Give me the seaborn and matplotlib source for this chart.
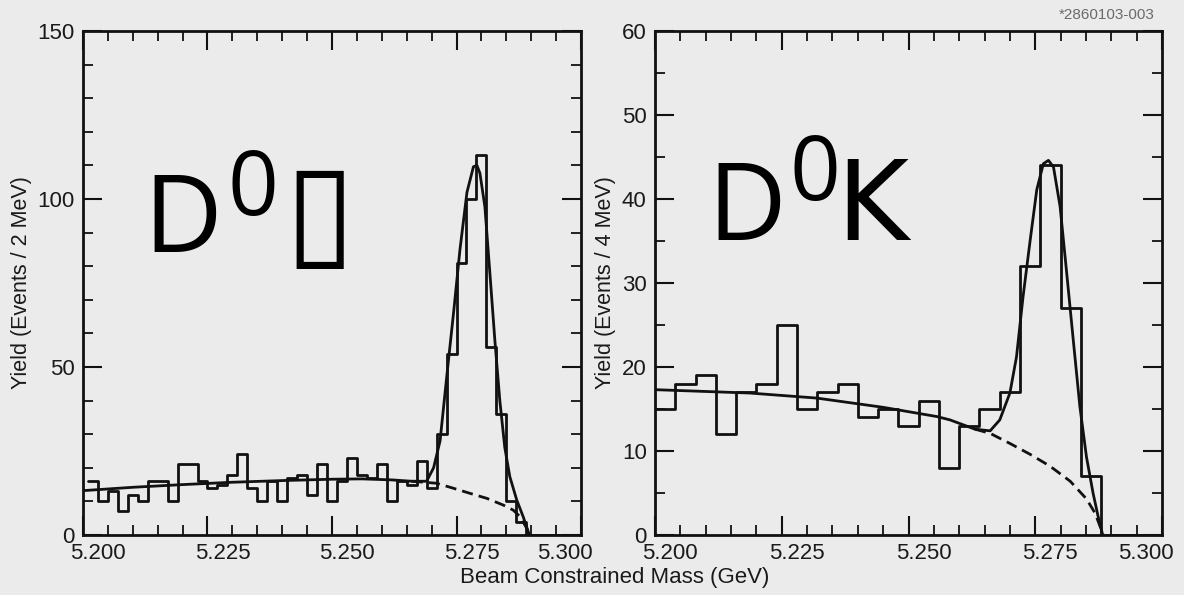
import numpy as np
import pandas as pd
import matplotlib
matplotlib.use("Agg")
import matplotlib.pyplot as plt
import seaborn as sns
from matplotlib.ticker import MultipleLocator
from matplotlib.transforms import ScaledTranslation

# ---------------- data ----------------
# Left panel: D0 pi, 2 MeV bins
left_first_edge = 5.201
left_bin_width = 0.002
left_counts = [16, 10, 13, 7, 12, 10, 16, 16, 10, 21,
               21, 16, 14, 15, 18, 24, 14, 10, 16, 10,
               17, 18, 12, 21, 10, 16, 23, 18, 17, 21,
               10, 16, 15, 22, 14, 30, 54, 81, 100, 113,
               56, 36, 10, 4, 0, 0, 0, 0, 0]

# Right panel: D0 K, 4 MeV bins
right_first_edge = 5.200
right_bin_width = 0.004
right_counts = [15, 18, 19, 12, 17, 18, 25, 15, 17, 18,
                14, 15, 13, 16, 8, 13, 15, 17, 32, 44,
                27, 7, 0, 0, 0]

# Fit curves (mass GeV, yield)
left_fit_m = [5.200, 5.210, 5.220, 5.230, 5.240, 5.250, 5.256, 5.262, 5.266,
              5.2690, 5.2704, 5.2717, 5.2731, 5.2744, 5.2757, 5.2771, 5.2784,
              5.2791, 5.2797, 5.2807, 5.2817, 5.2827, 5.2837, 5.2847, 5.2857,
              5.2871, 5.2884, 5.2894, 5.2897]
left_fit_y = [13.2, 14.2, 15.0, 15.7, 16.2, 16.6, 16.7, 16.4, 16.0,
              16.0, 20.0, 28.0, 48.0, 66.0, 85.0, 102.0, 109.6,
              110.0, 107.7, 97.7, 78.0, 58.0, 40.0, 26.0, 17.4,
              10.4, 5.4, 1.0, 0.0]
left_bkg_m = [5.266, 5.2710, 5.2744, 5.2777, 5.2811, 5.2844, 5.2864, 5.2878,
              5.2891, 5.2896]
left_bkg_y = [16.0, 15.4, 13.9, 12.4, 10.9, 8.9, 7.4, 5.4, 2.0, 0.0]

right_fit_m = [5.200, 5.2187, 5.2319, 5.2450, 5.2556, 5.2582, 5.2631, 5.2661,
               5.2680, 5.2700, 5.2713, 5.2726, 5.2740, 5.2753, 5.2766, 5.2776,
               5.2786, 5.2799, 5.2812, 5.2825, 5.2838, 5.2851, 5.2864, 5.2874,
               5.2883]
right_fit_y = [17.3, 16.9, 16.3, 15.2, 14.1, 13.7, 12.6, 12.4,
               13.7, 16.9, 21.2, 28.4, 35.1, 41.1, 44.2, 44.6,
               43.8, 39.1, 31.2, 23.2, 15.3, 9.3, 5.0, 2.2,
               0.0]
right_bkg_m = [5.2631, 5.2661, 5.2700, 5.2740, 5.2779, 5.2819, 5.2851, 5.2868,
               5.2878, 5.2884]
right_bkg_y = [12.6, 12.1, 10.9, 9.6, 8.2, 6.4, 4.3, 2.6, 1.0, 0.0]

x_ticks = [5.200, 5.225, 5.250, 5.275, 5.300]
x_tick_labels = ["5.200", "5.225", "5.250", "5.275", "5.300"]
left_y_ticks = [0, 50, 100, 150]
right_y_ticks = [0, 10, 20, 30, 40, 50, 60]

x_label = "Beam Constrained Mass (GeV)"
left_ylabel = "Yield (Events / 2 MeV)"
right_ylabel = "Yield (Events / 4 MeV)"
stamp = "*2860103-003"

# ---------------- style ----------------
BG = "#ebebeb"
INK = "#111111"
sns.set_theme(style="ticks")
plt.rcParams["font.family"] = ["Liberation Sans", "DejaVu Sans"]
plt.rcParams["figure.facecolor"] = BG
plt.rcParams["axes.facecolor"] = BG

fig = plt.figure(figsize=(11.84, 5.95), dpi=100)
fig.patch.set_facecolor(BG)

W, H = 1184.0, 595.0
ax_l = fig.add_axes([83 / W, 1 - 535 / H, (581 - 83) / W, (535 - 31) / H])
ax_r = fig.add_axes([655 / W, 1 - 535 / H, (1162 - 655) / W, (535 - 31) / H])


def draw_panel(ax, first_edge, width, counts, fit_m, fit_y, bkg_m, bkg_y,
               y_ticks, yminor, ylabel):
    n = len(counts)
    edges = [float(v) for v in first_edge + width * np.arange(n + 1)]
    centers = [0.5 * (a + b) for a, b in zip(edges[:-1], edges[1:])]
    df = pd.DataFrame({"mass": centers, "count": counts})
    sns.histplot(data=df, x="mass", weights="count", bins=edges,
                 element="step", fill=False, color=INK, linewidth=2.0, ax=ax)
    sns.lineplot(x=fit_m, y=fit_y, sort=False, estimator=None, color=INK,
                 linewidth=2.0, ax=ax)
    sns.lineplot(x=bkg_m, y=bkg_y, sort=False, estimator=None, color=INK,
                 linewidth=2.0, linestyle=(0, (4, 2.2)), ax=ax)
    ax.set_xlim(x_ticks[0], x_ticks[-1])
    ax.set_ylim(y_ticks[0], y_ticks[-1])
    ax.set_xticks(x_ticks, x_tick_labels)
    ax.xaxis.set_minor_locator(MultipleLocator(0.005))
    ax.set_yticks(y_ticks, [str(v) for v in y_ticks])
    ax.yaxis.set_minor_locator(MultipleLocator(yminor))
    ax.tick_params(which="both", direction="in", top=True, right=True,
                   color=INK, labelcolor="#1a1a1a", labelsize=16)
    ax.tick_params(which="major", length=14, width=1.5, pad=6)
    ax.tick_params(which="minor", length=7, width=1.3)
    for s in ax.spines.values():
        s.set_linewidth(2.0)
        s.set_color(INK)
    ax.set_xlabel("")
    ax.set_ylabel(ylabel, fontsize=15.5, color="#1a1a1a", labelpad=4)
    ax.set_facecolor(BG)


draw_panel(ax_l, left_first_edge, left_bin_width, left_counts,
           left_fit_m, left_fit_y, left_bkg_m, left_bkg_y,
           left_y_ticks, 10, left_ylabel)
draw_panel(ax_r, right_first_edge, right_bin_width, right_counts,
           right_fit_m, right_fit_y, right_bkg_m, right_bkg_y,
           right_y_ticks, 5, right_ylabel)

# shift x tick labels like the original scan: right, except the last one (left)
off_r = ScaledTranslation(15 / 100.0, 0, fig.dpi_scale_trans)
off_l = ScaledTranslation(-16 / 100.0, 0, fig.dpi_scale_trans)
for ax in (ax_l, ax_r):
    labs = ax.get_xticklabels()
    for i, lab in enumerate(labs):
        lab.set_transform(lab.get_transform() + (off_l if i == len(labs) - 1 else off_r))

fig.text(615 / W, 1 - 578 / H, x_label, ha="center", va="center",
         fontsize=16, color="#1a1a1a")
fig.text(1155 / W, 1 - 15 / H, stamp, ha="right", va="center",
         fontsize=11, color="#6a6a6a")

# big overlay labels
big_font = ["Open Sans", "DejaVu Sans"]
fig.text(143 / W, 1 - 252 / H, "D", fontsize=78, family=big_font,
         color="black", ha="left", va="baseline")
fig.text(228 / W, 1 - 215 / H, "0", fontsize=64, family=big_font,
         color="black", ha="left", va="baseline")
fig.text(284 / W, 1 - 253 / H, "\u25AF", fontsize=92, family=["DejaVu Sans"],
         color="black", ha="left", va="baseline")

fig.text(707 / W, 1 - 240 / H, "D", fontsize=78, family=big_font,
         color="black", ha="left", va="baseline")
fig.text(790 / W, 1 - 200 / H, "0", fontsize=64, family=big_font,
         color="black", ha="left", va="baseline")
fig.text(836 / W, 1 - 240 / H, "K", fontsize=79, family=["DejaVu Sans"],
         color="black", ha="left", va="baseline")

fig.savefig("out.png", dpi=100, facecolor=BG)
